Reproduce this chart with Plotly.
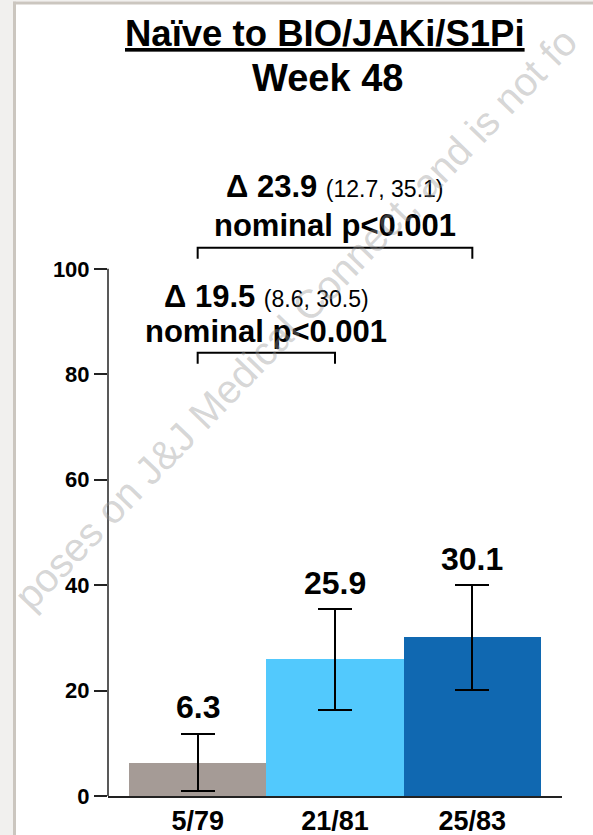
import plotly.graph_objects as go

# ---------------- data ----------------
categories = ["5/79", "21/81", "25/83"]
rates = [6.3, 25.9, 30.1]
ci_low = [1.0, 16.3, 20.2]
ci_high = [11.8, 35.5, 40.0]
bar_colors = ["#a59b96", "#52c9fd", "#1068b1"]
y_ticks = [0, 20, 40, 60, 80, 100]

# comparisons: (from bar, to bar)
comp_pairs = [(0, 1), (0, 2)]
comp_delta = [19.5, 23.9]
comp_ci = [(8.6, 30.5), (12.7, 35.1)]
comp_p = ["nominal p<0.001", "nominal p<0.001"]

title_line1 = "Naïve to BIO/JAKi/S1Pi"
title_line2 = "Week 48"
watermark = "poses on J&J Medical Connect, and is not fo"

# ---------------- layout geometry ----------------
W, H = 593, 835
ML, MR, MT, MB = 108, 31, 0, 39
PW, PH = W - ML - MR, H - MT - MB
Y_TOP = 151.0


def xp(px):
    return (px - ML) / PW


def yp(py):
    return (H - MB - py) / PH


FONT = "Liberation Sans, Arial, Helvetica, sans-serif"
x = list(range(len(categories)))

fig = go.Figure()
fig.add_trace(go.Bar(
    x=x, y=rates,
    marker=dict(color=bar_colors, line=dict(width=0)),
    width=1.0,
    error_y=dict(type="data", symmetric=False,
                 array=[h - r for h, r in zip(ci_high, rates)],
                 arrayminus=[r - l for r, l in zip(rates, ci_low)],
                 color="black", thickness=2, width=17),
    hoverinfo="skip",
))

annotations = []
# value labels above the error bars
for i, r in enumerate(rates):
    annotations.append(dict(x=x[i], y=ci_high[i] + 5.0, xref="x", yref="y",
                            text=f"<b>{r}</b>", showarrow=False,
                            font=dict(family=FONT, size=32, color="black"),
                            xanchor="center", yanchor="middle"))

shapes = []
# comparison brackets + labels
bracket_y = [84.1, 104.0]
delta_y = [94.7, 115.6]
p_y = [88.2, 108.2]
for k, (a, b) in enumerate(comp_pairs):
    yb = bracket_y[k]
    shapes.append(dict(type="path", xref="x", yref="y",
                       path=f"M {x[a]},{yb-2.1} L {x[a]},{yb} L {x[b]},{yb} L {x[b]},{yb-2.1}",
                       line=dict(color="black", width=2)))
    xc = (x[a] + x[b]) / 2
    lo, hi = comp_ci[k]
    annotations.append(dict(x=xc, y=delta_y[k], xref="x", yref="y",
                            text=f"<b>Δ {comp_delta[k]}</b> <span style='font-size:23px'>({lo}, {hi})</span>",
                            showarrow=False, font=dict(family=FONT, size=31, color="black"),
                            xanchor="center", yanchor="middle"))
    annotations.append(dict(x=xc, y=p_y[k], xref="x", yref="y",
                            text=f"<b>{comp_p[k]}</b>",
                            showarrow=False, font=dict(family=FONT, size=31, color="black"),
                            xanchor="center", yanchor="middle"))

# title
annotations.append(dict(x=xp(325), y=yp(33), xref="paper", yref="paper",
                        text=f"<b><u>{title_line1}</u></b>", showarrow=False,
                        font=dict(family=FONT, size=36.5, color="black"),
                        xanchor="center", yanchor="middle"))
annotations.append(dict(x=xp(327), y=yp(78), xref="paper", yref="paper",
                        text=f"<b>{title_line2}</b>", showarrow=False,
                        font=dict(family=FONT, size=38, color="black"),
                        xanchor="center", yanchor="middle"))

# watermark
annotations.append(dict(x=xp(295), y=yp(319), xref="paper", yref="paper",
                        text=watermark, showarrow=False, textangle=-46,
                        font=dict(family=FONT, size=40, color="rgba(150,150,150,0.4)"),
                        xanchor="center", yanchor="middle"))

# y axis line (0 to 100 only)
shapes.append(dict(type="line", xref="paper", yref="y", x0=0, x1=0, y0=0, y1=100,
                   line=dict(color="#222222", width=1.5)))

# page frame
frame = "#cbc6bf"
shapes += [
    dict(type="rect", xref="paper", yref="paper", x0=xp(0), x1=xp(13), y0=yp(H), y1=yp(0),
         fillcolor="#f1f0ee", line=dict(width=0), layer="below"),
    dict(type="rect", xref="paper", yref="paper", x0=xp(13), x1=xp(16), y0=yp(H), y1=yp(1.5),
         fillcolor=frame, line=dict(width=0), layer="below"),
    dict(type="rect", xref="paper", yref="paper", x0=xp(13), x1=xp(W), y0=yp(0), y1=yp(1.5),
         fillcolor="#f1f0ee", line=dict(width=0), layer="below"),
    dict(type="rect", xref="paper", yref="paper", x0=xp(13), x1=xp(W), y0=yp(4.5), y1=yp(1.5),
         fillcolor=frame, line=dict(width=0), layer="below"),
]

fig.update_layout(
    width=W, height=H,
    margin=dict(l=ML, r=MR, t=MT, b=MB, pad=0),
    paper_bgcolor="white", plot_bgcolor="rgba(0,0,0,0)",
    showlegend=False, bargap=0,
    annotations=annotations, shapes=shapes,
    xaxis=dict(range=[-0.653, 2.653], tickvals=x, ticktext=categories,
               showline=True, linecolor="#222222", linewidth=1.5,
               ticks="", showgrid=False, zeroline=False, fixedrange=True,
               tickfont=dict(family=FONT, size=27, color="black", weight="bold")),
    yaxis=dict(range=[0, Y_TOP], tickvals=y_ticks, ticks="outside", ticklen=13,
               tickwidth=1.5, tickcolor="#222222", showline=False, showgrid=False,
               zeroline=False, fixedrange=True,
               tickfont=dict(family=FONT, size=22, color="black", weight="bold")),
)

fig.write_html("out.html", config={"displayModeBar": False})
